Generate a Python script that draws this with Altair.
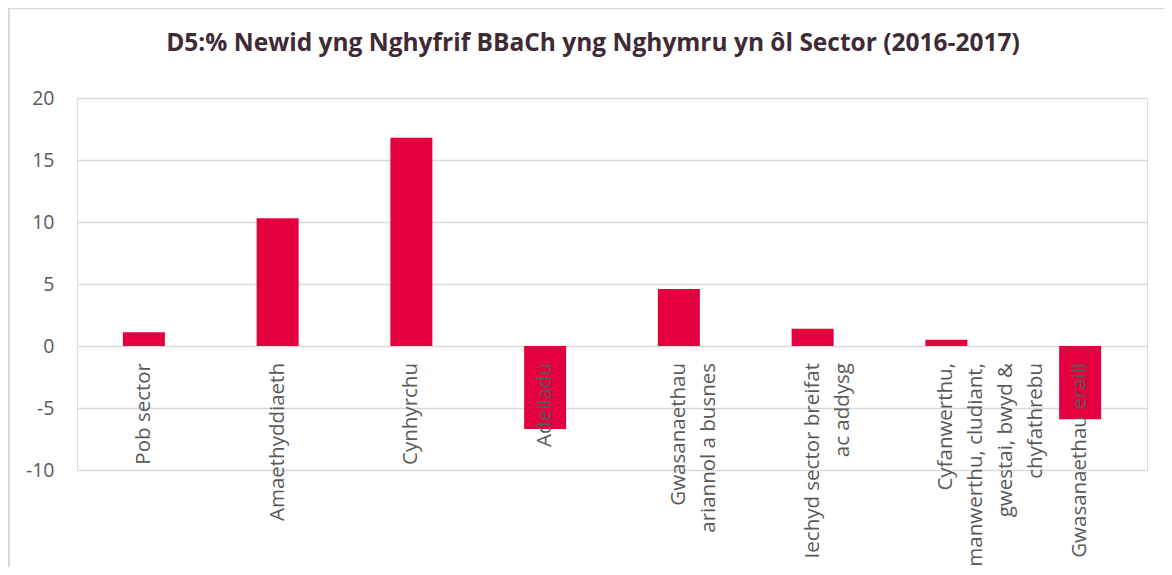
import altair as alt
import pandas as pd

sectors = [
    "Pob sector",
    "Amaethyddiaeth",
    "Cynhyrchu",
    "Adeiladu",
    "Gwasanaethau ariannol a busnes",
    "Iechyd sector breifat ac addysg",
    "Cyfanwerthu, manwerthu, cludiant, gwestai, bwyd & chyfathrebu",
    "Gwasanaethau eraill",
]
labels = [
    "Pob sector",
    "Amaethyddiaeth",
    "Cynhyrchu",
    "Adeiladu",
    "Gwasanaethau\nariannol a busnes",
    "Iechyd sector breifat\nac addysg",
    "Cyfanwerthu,\nmanwerthu, cludiant,\ngwestai, bwyd &\nchyfathrebu",
    "Gwasanaethau eraill",
]
values = [1.1, 10.3, 16.8, -6.7, 4.6, 1.4, 0.5, -5.9]
y_ticks = [-10, -5, 0, 5, 10, 15, 20]
title_text = "D5:% Newid yng Nghyfrif BBaCh yng Nghymru yn ôl Sector (2016-2017)"

df = pd.DataFrame({"sector": sectors, "label": labels, "value": values})

W, H = 1070, 372
PAD = {"left": 69, "top": 90, "right": 17, "bottom": 97}
GRID = "#D9D9D9"
TEXT = "#595959"
BAR = "#E4003F"

x = alt.X(
    "sector:N",
    sort=sectors,
    scale=alt.Scale(paddingInner=0.686, paddingOuter=0.343),
    axis=None,
)
yscale = alt.Scale(domain=[-10, 20], nice=False)

bars = alt.Chart(df).mark_bar(color=BAR).encode(
    x=x,
    y=alt.Y(
        "value:Q",
        scale=yscale,
        title=None,
        axis=alt.Axis(
            values=y_ticks,
            labelExpr="'' + datum.value",
            grid=True,
            gridColor=GRID,
            gridWidth=1.5,
            domain=False,
            ticks=False,
            labelPadding=23,
            labelFontSize=19.5,
            labelColor=TEXT,
            labelFont="Open Sans",
        ),
    ),
    y2=alt.datum(0),
)

text = alt.Chart(df).mark_text(
    angle=270,
    align="right",
    baseline="middle",
    dx=-17,
    lineBreak="\n",
    lineHeight=30,
    fontSize=20.5,
    font="Open Sans",
    color=TEXT,
).encode(
    x=x,
    y=alt.datum(0, scale=yscale),
    text="label:N",
)

frame = alt.Data(values=[{"t": title_text}])
title = alt.Chart(frame).mark_text(
    font="Open Sans",
    fontSize=24.5,
    fontWeight="bold",
    color="#3F2B36",
    align="center",
    baseline="alphabetic",
).encode(
    x=alt.value(W / 2 - 19),
    y=alt.value(-47),
    text="t:N",
)
top_line = alt.Chart(frame).mark_rule(color=GRID, strokeWidth=1.5).encode(
    x=alt.value(-PAD["left"]),
    x2=alt.value(W + PAD["right"]),
    y=alt.value(-PAD["top"] + 0.5),
)
left_line = alt.Chart(frame).mark_rule(color=GRID, strokeWidth=2).encode(
    x=alt.value(-PAD["left"] + 1),
    y=alt.value(-PAD["top"]),
    y2=alt.value(H + PAD["bottom"]),
)

chart = alt.layer(bars, text, title, top_line, left_line).properties(
    width=W,
    height=H,
    padding=PAD,
    autosize=alt.AutoSizeParams(type="none"),
).configure_view(stroke=None).configure(background="white")

chart.save("out.html", embed_options={"renderer": "svg", "actions": False})
